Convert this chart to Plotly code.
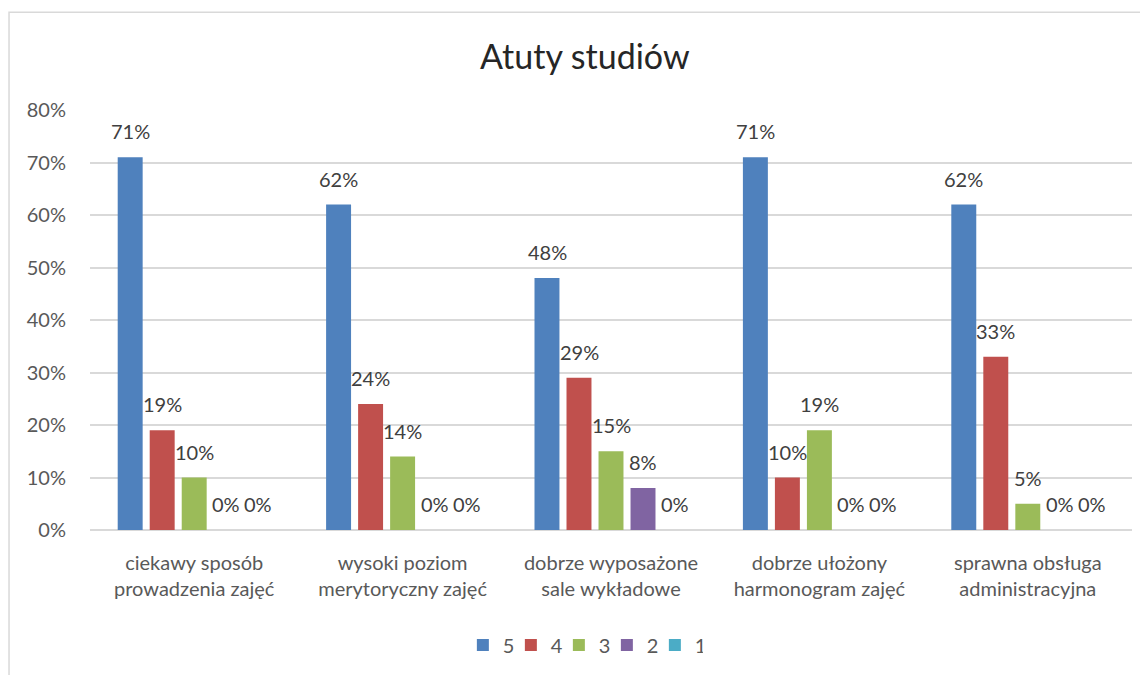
import plotly.graph_objects as go

categories = [
    "ciekawy sposób<br>prowadzenia zajęć",
    "wysoki poziom<br>merytoryczny zajęć",
    "dobrze wyposażone<br>sale wykładowe",
    "dobrze ułożony<br>harmonogram zajęć",
    "sprawna obsługa<br>administracyjna",
]
series_names = ["5", "4", "3", "2", "1"]
ocena_5 = [0.71, 0.62, 0.48, 0.71, 0.62]
ocena_4 = [0.19, 0.24, 0.29, 0.10, 0.33]
ocena_3 = [0.10, 0.14, 0.15, 0.19, 0.05]
ocena_2 = [0.00, 0.00, 0.08, 0.00, 0.00]
ocena_1 = [0.00, 0.00, 0.00, 0.00, 0.00]
colors = ["#4f81bd", "#c0504d", "#9bbb59", "#8064a2", "#4bacc6"]

all_series = [ocena_5, ocena_4, ocena_3, ocena_2, ocena_1]
font_family = "Lato, 'Liberation Sans', sans-serif"
txt_color = "#595959"

fig = go.Figure()
for name, vals, col in zip(series_names, all_series, colors):
    fig.add_trace(go.Bar(x=categories, y=vals, name=name,
                         marker=dict(color=col, line=dict(width=0))))

# etykiety danych nad słupkami (jak w Excelu)
slot = 32
annotations = []
for i, vals in enumerate(all_series):
    for cat, v in zip(categories, vals):
        annotations.append(dict(
            x=cat, y=v, xref="x", yref="y",
            text=f"{round(v * 100)}%", showarrow=False,
            xshift=(i - 2) * slot, yshift=26,
            font=dict(family=font_family, size=20, color="#404040")))

fig.update_layout(
    width=1140, height=667,
    paper_bgcolor="white", plot_bgcolor="white",
    margin=dict(l=82, r=16, t=102, b=144),
    barmode="group", bargap=0.232, bargroupgap=0.22,
    title=dict(text="Atuty studiów", x=0.506, xanchor="center", y=0.9265, yanchor="middle",
               font=dict(family=font_family, size=34, color="#262626")),
    font=dict(family=font_family, size=20, color=txt_color),
    showlegend=True,
    legend=dict(orientation="h", x=0.473, xanchor="center", y=-0.271, yanchor="middle",
                font=dict(size=20, color=txt_color), itemwidth=30,
                entrywidth=3, entrywidthmode="pixels",
                traceorder="normal"),
    annotations=annotations,
    shapes=[dict(type="rect", xref="paper", yref="paper",
                 x0=-0.0777, x1=1.1, y0=-0.5, y1=1.2328,
                 line=dict(color="#d9d9d9", width=1.5), fillcolor="rgba(0,0,0,0)",
                 layer="below")],
)
fig.update_xaxes(showgrid=False, showline=False, zeroline=False,
                 tickfont=dict(size=20, color=txt_color), ticklabelstandoff=19)
fig.update_yaxes(range=[0, 0.8], dtick=0.1, tickformat=".0%",
                 showgrid=True, gridcolor="#d9d9d9", gridwidth=1.5,
                 zeroline=True, zerolinecolor="#d9d9d9", zerolinewidth=1.5,
                 showline=False, tickfont=dict(size=20, color=txt_color),
                 ticklabelstandoff=23)

fig.write_html("out.html")
